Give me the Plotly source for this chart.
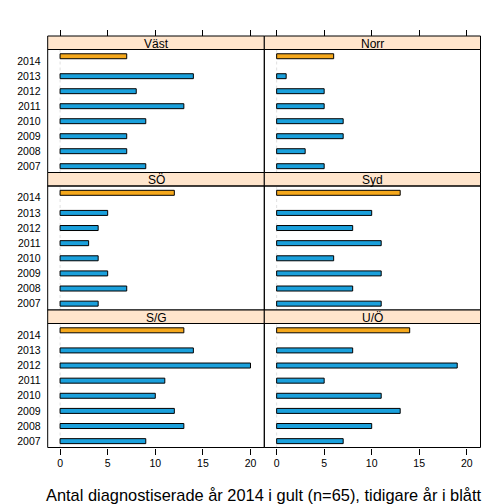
import plotly.graph_objects as go

years_prev = [2007, 2008, 2009, 2010, 2011, 2012, 2013]
year_cur = 2014
tick_years = [2007, 2008, 2009, 2010, 2011, 2012, 2013, 2014]
regions = ["Väst", "Norr", "SÖ", "Syd", "S/G", "U/Ö"]

vast_prev = [9, 7, 7, 9, 13, 8, 14]
norr_prev = [5, 3, 7, 7, 5, 5, 1]
so_prev = [4, 7, 5, 4, 3, 4, 5]
syd_prev = [11, 8, 11, 6, 11, 8, 10]
sg_prev = [9, 13, 12, 10, 11, 20, 14]
uo_prev = [7, 10, 13, 11, 5, 19, 8]
prev_values = [vast_prev, norr_prev, so_prev, syd_prev, sg_prev, uo_prev]
cur_values = [7, 6, 12, 13, 13, 14]

x_ticks = [0, 5, 10, 15, 20]
xlabel = "Antal diagnostiserade år 2014 i gult (n=65), tidigare år i blått"

W = H = 504
BLUE = "#1AA0DC"
ORANGE = "#F5A81C"
STRIP = "#FFE5CC"
FONT = "Liberation Sans, Arial, sans-serif"

col_px = [(47.7, 264.3), (264.3, 480.5)]
# (strip top, plot top, plot bottom) in px from top
row_px = [(36.0, 49.5, 172.5), (172.5, 186.0, 310.0), (310.0, 323.5, 447.5)]


def px2x(p):
    return p / W


def px2y(p):
    return 1 - p / H


XR = [-1.3, 21.45]
YR = [2006.58, 2014.78]
BW = 0.33

fig = go.Figure()
shapes = []
annotations = []

for i, name in enumerate(regions):
    r, c = divmod(i, 2)
    ax = "" if i == 0 else str(i + 1)
    xa, ya = "x" + ax, "y" + ax
    fig.add_trace(go.Bar(
        y=years_prev, x=prev_values[i], orientation="h", width=BW,
        marker=dict(color=BLUE, line=dict(color="black", width=1)),
        xaxis=xa, yaxis=ya, showlegend=False,
    ))
    fig.add_trace(go.Bar(
        y=[year_cur], x=[cur_values[i]], orientation="h", width=BW,
        offset=-BW / 2 + 0.33,
        marker=dict(color=ORANGE, line=dict(color="black", width=1)),
        xaxis=xa, yaxis=ya, showlegend=False,
    ))
    x0, x1 = col_px[c]
    st, pt, pb = row_px[r]
    xdom = [px2x(x0), px2x(x1)]
    ydom = [px2y(pb), px2y(pt)]
    bottom = (r == 2)
    fig.update_layout(**{
        "xaxis" + ax: dict(
            domain=xdom, range=XR, anchor=ya, tickvals=x_ticks,
            showticklabels=bottom, ticks="outside" if bottom else "",
            ticklen=6, tickcolor="black", showgrid=False, zeroline=False,
            tickfont=dict(size=10.5, color="black", family=FONT),
            fixedrange=True,
        ),
        "yaxis" + ax: dict(
            domain=ydom, range=YR, anchor=xa, tickvals=tick_years,
            ticktext=[str(y) for y in tick_years],
            showticklabels=(c == 0), ticks="outside" if c == 0 else "",
            ticklen=4, tickcolor="rgba(0,0,0,0)", showgrid=False, zeroline=False,
            tickfont=dict(size=10.5, color="black", family=FONT),
            fixedrange=True,
        ),
    })
    # zero reference line
    shapes.append(dict(type="line", xref=xa, yref=ya + " domain", x0=0, x1=0, y0=0, y1=1,
                       line=dict(color="#E0E0E0", width=1, dash="dot"), layer="below"))
    # strip
    shapes.append(dict(type="rect", xref="paper", yref="paper", x0=px2x(x0), x1=px2x(x1),
                       y0=px2y(pt), y1=px2y(st), fillcolor=STRIP, line=dict(color="black", width=1),
                       layer="below"))
    # panel border
    shapes.append(dict(type="rect", xref="paper", yref="paper", x0=px2x(x0), x1=px2x(x1),
                       y0=px2y(pb), y1=px2y(pt), line=dict(color="black", width=1), layer="below"))
    annotations.append(dict(text=name, xref="paper", yref="paper",
                            x=(px2x(x0) + px2x(x1)) / 2, y=px2y(pt + 2.2),
                            showarrow=False, xanchor="center", yanchor="bottom", borderpad=0,
                            font=dict(size=12, color="black", family=FONT)))

# top tick marks on top row
for c in range(2):
    idx = 7 + c
    x0, x1 = col_px[c]
    fig.update_layout(**{
        "xaxis%d" % idx: dict(
            domain=[px2x(x0), px2x(x1)], range=XR, overlaying="x" if c == 0 else "x2",
            anchor="free", position=px2y(row_px[0][0]), side="top",
            tickvals=x_ticks, ticks="outside", ticklen=6, tickcolor="black",
            showticklabels=False, showgrid=False, zeroline=False, fixedrange=True,
        )
    })
    fig.add_trace(go.Scatter(x=[None], y=[None], xaxis="x%d" % idx,
                             yaxis="y" if c == 0 else "y2", showlegend=False, hoverinfo="skip"))

annotations.append(dict(text=xlabel, xref="paper", yref="paper", x=px2x(264), y=px2y(495),
                        showarrow=False, xanchor="center", yanchor="middle",
                        font=dict(size=16.4, color="black", family=FONT)))

fig.update_layout(
    width=W, height=H, margin=dict(l=0, r=0, t=0, b=0),
    paper_bgcolor="white", plot_bgcolor="white",
    shapes=shapes, annotations=annotations, barmode="overlay",
)

fig.write_html("out.html", config={"displayModeBar": False},
               post_script="document.body.style.margin='0';document.body.style.overflow='hidden';")
